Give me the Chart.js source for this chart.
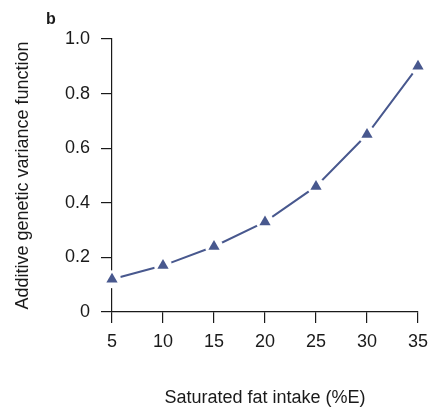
<!DOCTYPE html>
<html>
<head>
<meta charset="utf-8">
<script src="https://cdn.jsdelivr.net/npm/chart.js@4"></script>
<style>
  html, body { margin: 0; padding: 0; background: #fff; }
  #wrap { width: 430px; height: 413px; }
</style>
</head>
<body>
<div id="wrap"><canvas id="chart"></canvas></div>
<script>
// values
var fatIntake = [5, 10, 15, 20, 25, 30, 35];
var varianceFn = [0.12, 0.17, 0.24, 0.33, 0.46, 0.65, 0.90];
var xTicks = [5, 10, 15, 20, 25, 30, 35];
var yTicks = [0, 0.2, 0.4, 0.6, 0.8, 1.0];

var navy = '#48588e';
var ink = '#1a1a1a';
var fam = '"Liberation Sans", Arial, Helvetica, sans-serif';

var points = fatIntake.map(function (x, i) { return { x: x, y: varianceFn[i] }; });

// panel letter
var panelLabel = {
    id: 'panelLabel',
    afterDraw: function (chart) {
        var ctx = chart.ctx;
        ctx.save();
        ctx.fillStyle = ink;
        ctx.font = 'bold 16px ' + fam;
        ctx.textBaseline = 'alphabetic';
        ctx.fillText('b', 46, 24);
        ctx.restore();
    }
};

new Chart(document.getElementById('chart'), {
    type: 'scatter',
    data: {
        datasets: [
            {   // connecting line
                data: points,
                showLine: true,
                borderColor: navy,
                borderWidth: 2,
                pointRadius: 0,
                order: 3
            },
            {   // white halo that opens the gaps around markers
                data: points,
                showLine: false,
                pointStyle: 'circle',
                pointRadius: 9,
                pointBackgroundColor: '#fff',
                pointBorderWidth: 0,
                order: 2
            },
            {   // markers
                data: points,
                showLine: false,
                pointStyle: 'triangle',
                pointRadius: 6.5,
                pointBackgroundColor: navy,
                pointBorderColor: navy,
                pointBorderWidth: 0,
                order: 1
            }
        ]
    },
    options: {
        responsive: true,
        maintainAspectRatio: false,
        animation: false,
        clip: false,
        layout: { padding: { top: 39, right: 0, left: 0, bottom: 0 } },
        plugins: { legend: { display: false }, tooltip: { enabled: false } },
        scales: {
            x: {
                type: 'linear',
                min: 5, max: 35,
                afterBuildTicks: function (s) { s.ticks = xTicks.map(function (v) { return { value: v }; }); },
                afterFit: function (s) { s.height = 101; s.paddingRight = 12; },
                grid: { drawOnChartArea: false, tickLength: 11, color: ink, lineWidth: 1.2 },
                border: { display: true, color: ink, width: 1.2 },
                ticks: { color: ink, padding: 8, font: { family: fam, size: 18 }, maxRotation: 0 },
                title: {
                    display: true, text: 'Saturated fat intake (%E)', color: ink,
                    font: { family: fam, size: 18 }, padding: { top: 0, bottom: 4 }
                }
            },
            y: {
                min: 0, max: 1,
                afterBuildTicks: function (s) { s.ticks = yTicks.map(function (v) { return { value: v }; }); },
                afterFit: function (s) { s.width = 112; },
                grid: { drawOnChartArea: false, tickLength: 11, color: ink, lineWidth: 1.2 },
                border: { display: true, color: ink, width: 1.2 },
                ticks: {
                    color: ink, padding: 11, font: { family: fam, size: 18 },
                    callback: function (v) { return v === 0 ? '0' : v.toFixed(1); }
                },
                title: {
                    display: true, text: 'Additive genetic variance function', color: ink,
                    font: { family: fam, size: 18 }, padding: { top: 12, bottom: 0 }
                }
            }
        }
    },
    plugins: [panelLabel]
});
</script>
</body>
</html>
